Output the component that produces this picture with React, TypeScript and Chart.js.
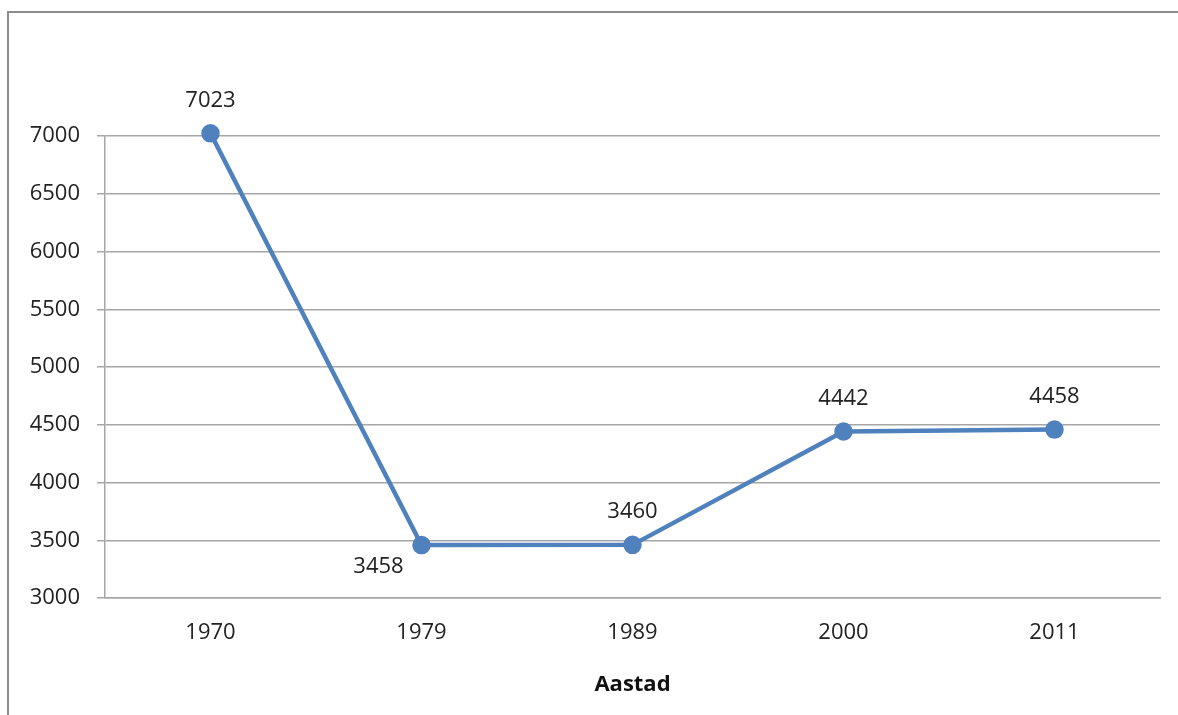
import React, { useEffect, useRef } from "react";
import { Chart, registerables } from "chart.js";

Chart.register(...registerables);

const categories = ["1970", "1979", "1989", "2000", "2011"];
const values = [7023, 3458, 3460, 4442, 4458];
const yTicks = [3000, 3500, 4000, 4500, 5000, 5500, 6000, 6500, 7000];
const axisTitle = "Aastad";

const FONT = "'Open Sans', 'Liberation Sans', sans-serif";

const dataLabelPlugin = {
  id: "dataLabels",
  afterDatasetsDraw(chart: any) {
    const ctx = chart.ctx;
    const meta = chart.getDatasetMeta(0);
    ctx.save();
    ctx.font = `22px ${FONT}`;
    ctx.fillStyle = "#222";
    ctx.textAlign = "center";
    ctx.textBaseline = "middle";
    meta.data.forEach((pt: any, i: number) => {
      const v = chart.data.datasets[0].data[i];
      let x = pt.x;
      let y = pt.y - 33;
      if (i === 1) {
        x = pt.x - 43;
        y = pt.y + 22;
      }
      ctx.fillText(String(v), x, y);
    });
    ctx.restore();
  },
};

export default function App() {
  const ref = useRef<HTMLCanvasElement>(null);
  useEffect(() => {
    document.body.style.margin = "0";
    const chart = new Chart(ref.current!, {
      type: "line",
      data: {
        labels: categories,
        datasets: [
          {
            data: values,
            borderColor: "#4f81bd",
            backgroundColor: "#4f81bd",
            borderWidth: 4.5,
            pointRadius: 7,
            pointHoverRadius: 7,
            pointBackgroundColor: "#4f81bd",
            pointBorderColor: "#4f81bd",
            tension: 0,
            clip: false,
          },
        ],
      },
      options: {
        animation: false,
        responsive: false,
        layout: { padding: { top: 136, right: 18, left: 0, bottom: 0 } },
        plugins: { legend: { display: false }, tooltip: { enabled: false } },
        scales: {
          x: {
            offset: true,
            grid: { display: false, drawTicks: false },
            border: { display: true, color: "#a6a6a6", width: 1.5 },
            ticks: { color: "#222", font: { family: FONT, size: 22 }, padding: 22 },
            title: {
              display: true,
              text: axisTitle,
              color: "#111",
              font: { family: FONT, size: 22, weight: "bold" },
              padding: { top: 0, bottom: 17 },
            },
            afterFit(scale: any) {
              scale.height = 117;
            },
          },
          y: {
            min: 3000,
            max: 7000,
            afterBuildTicks(scale: any) {
              scale.ticks = yTicks.map((v) => ({ value: v }));
            },
            grid: { color: "#a6a6a6", lineWidth: 1.5, tickLength: 8, drawTicks: true },
            border: { display: true, color: "#a6a6a6", width: 1.5 },
            ticks: {
              color: "#222",
              font: { family: FONT, size: 22 },
              padding: 17,
              callback: (v: any) => String(v),
            },
            afterFit(scale: any) {
              scale.width = 105;
            },
          },
        },
      },
      plugins: [dataLabelPlugin],
    });
    return () => chart.destroy();
  }, []);
  return (
    <div style={{ position: "relative", width: 1178, height: 715, background: "#fff", overflow: "hidden" }}>
      <div
        style={{
          position: "absolute",
          left: 7,
          top: 11,
          width: 1200,
          height: 800,
          borderLeft: "2px solid #8c8c8c",
          borderTop: "2px solid #8c8c8c",
        }}
      />
      <canvas ref={ref} width={1178} height={715} style={{ position: "absolute", left: 0, top: 0, display: "block" }} />
    </div>
  );
}
